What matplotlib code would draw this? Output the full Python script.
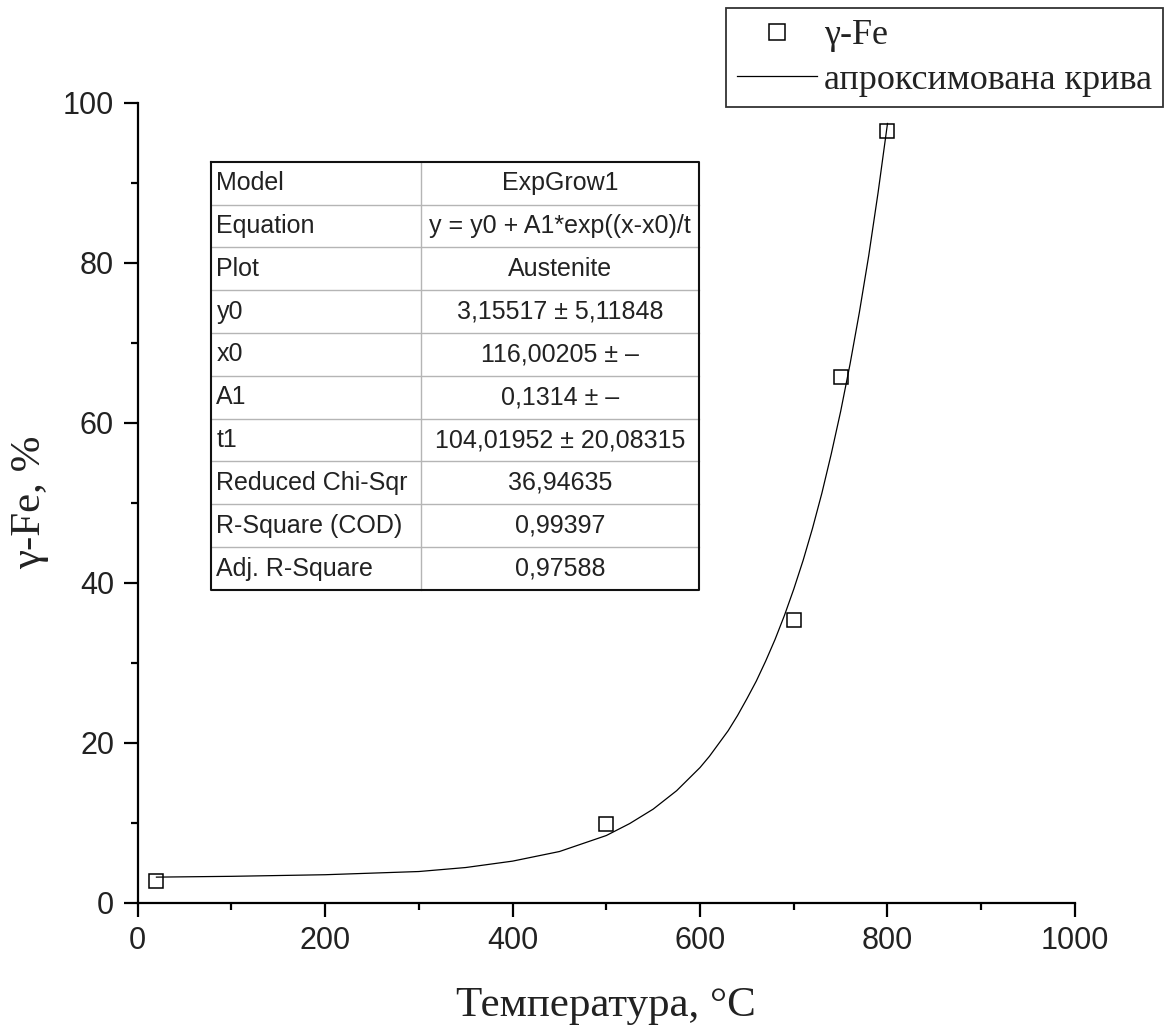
import matplotlib
matplotlib.use('Agg')
import matplotlib.pyplot as plt
from matplotlib.ticker import MultipleLocator, FixedLocator
from matplotlib.font_manager import FontProperties

# ---------------- data ----------------
temperature = [20, 500, 700, 750, 800]
gamma_fe = [2.7, 9.9, 35.3, 65.7, 96.5]

# approximated curve
fit_x = [20, 100, 200, 300, 350, 400, 450, 500, 525, 550, 575, 600,
         610, 620, 630, 640, 650, 660, 670, 680, 690, 700,
         710, 720, 730, 740, 750, 760, 770, 780, 790, 800]
fit_y = [3.2, 3.3, 3.5, 3.9, 4.4, 5.2, 6.4, 8.4, 9.9, 11.7, 14.0, 16.9,
         18.3, 19.9, 21.5, 23.4, 25.5, 27.7, 30.2, 32.9, 35.9, 39.2,
         42.8, 46.8, 51.2, 56.1, 61.4, 67.3, 73.8, 80.9, 88.8, 97.4]

x_ticks = [0, 200, 400, 600, 800, 1000]
y_ticks = [0, 20, 40, 60, 80, 100]

table_params = ["Model", "Equation", "Plot", "y0", "x0", "A1", "t1",
                "Reduced Chi-Sqr", "R-Square (COD)", "Adj. R-Square"]
table_values = ["ExpGrow1", "y = y0 + A1*exp((x-x0)/t", "Austenite",
                "3,15517 ± 5,11848", "116,00205 ± –", "0,1314 ± –",
                "104,01952 ± 20,08315", "36,94635", "0,99397", "0,97588"]

series_label = "γ-Fe"
curve_label = "апроксимована крива"
x_label = "Температура, °C"
y_label = "γ-Fe, %"

# ---------------- figure ----------------
sans = 'Liberation Sans'
serif = 'Liberation Serif'
txt_color = '#222222'

fig = plt.figure(figsize=(11.65, 10.35), dpi=100)
ax = fig.add_axes([0.1182, 0.1278, 0.8045, 0.773])

ax.plot(fit_x, fit_y, color='black', lw=0.9, label=curve_label, zorder=2)
ax.plot(temperature, gamma_fe, ls='none', marker='s', ms=10.5, mfc='none',
        mec='black', mew=1.1, label=series_label, zorder=3, clip_on=False)

ax.set_xlim(0, 1000)
ax.set_ylim(0, 100)
ax.xaxis.set_major_locator(FixedLocator(x_ticks))
ax.yaxis.set_major_locator(FixedLocator(y_ticks))
ax.xaxis.set_minor_locator(MultipleLocator(100))
ax.yaxis.set_minor_locator(MultipleLocator(10))

for s in ['top', 'right']:
    ax.spines[s].set_visible(False)
for s in ['left', 'bottom']:
    ax.spines[s].set_linewidth(1.6)

ax.tick_params(which='major', direction='out', length=10, width=1.6,
               pad=7, labelsize=22, labelcolor=txt_color)
ax.tick_params(which='minor', direction='out', length=5, width=1.6)
for lab in ax.get_xticklabels() + ax.get_yticklabels():
    lab.set_fontfamily(sans)

ax.set_xlabel(x_label, fontfamily=serif, fontsize=31, color=txt_color, labelpad=22)
ax.set_ylabel(y_label, fontfamily=serif, fontsize=31, color=txt_color, labelpad=10)

# ---------------- parameter table ----------------
t_left, t_right, t_mid = 0.078, 0.599, 0.302
t_top, t_bottom = 0.926, 0.391
n = len(table_params)
rh = (t_top - t_bottom) / n
tr = ax.transAxes
for i in range(1, n):
    yy = t_top - i * rh
    ax.plot([t_left, t_right], [yy, yy], transform=tr, color='#b5b5b5',
            lw=1.0, clip_on=False, zorder=4)
ax.plot([t_mid, t_mid], [t_bottom, t_top], transform=tr, color='#b5b5b5',
        lw=1.0, clip_on=False, zorder=4)
ax.plot([t_left, t_right, t_right, t_left, t_left],
        [t_top, t_top, t_bottom, t_bottom, t_top], transform=tr,
        color='#111111', lw=1.5, clip_on=False, zorder=5)
for i, (p, v) in enumerate(zip(table_params, table_values)):
    yc = t_top - (i + 0.5) * rh
    ax.text(t_left + 0.006, yc, p, transform=tr, ha='left', va='center',
            fontfamily=sans, fontsize=18, color=txt_color, zorder=6)
    ax.text((t_mid + t_right) / 2, yc, v, transform=tr, ha='center',
            va='center', fontfamily=sans, fontsize=18, color=txt_color,
            zorder=6)

# ---------------- legend ----------------
h, l = ax.get_legend_handles_labels()
order = [l.index(series_label), l.index(curve_label)]
leg = fig.legend([h[k] for k in order], [l[k] for k in order],
                 loc='upper right', bbox_to_anchor=(0.998, 0.992),
                 prop=FontProperties(family=serif, size=26),
                 frameon=True, fancybox=False, edgecolor='black',
                 handlelength=2.2, handletextpad=0.2, borderpad=0.3,
                 labelspacing=0.3, borderaxespad=0, markerscale=1.1)
leg.get_frame().set_linewidth(1.3)
for t in leg.get_texts():
    t.set_color(txt_color)

fig.savefig('out.png', dpi=100, facecolor='white')
